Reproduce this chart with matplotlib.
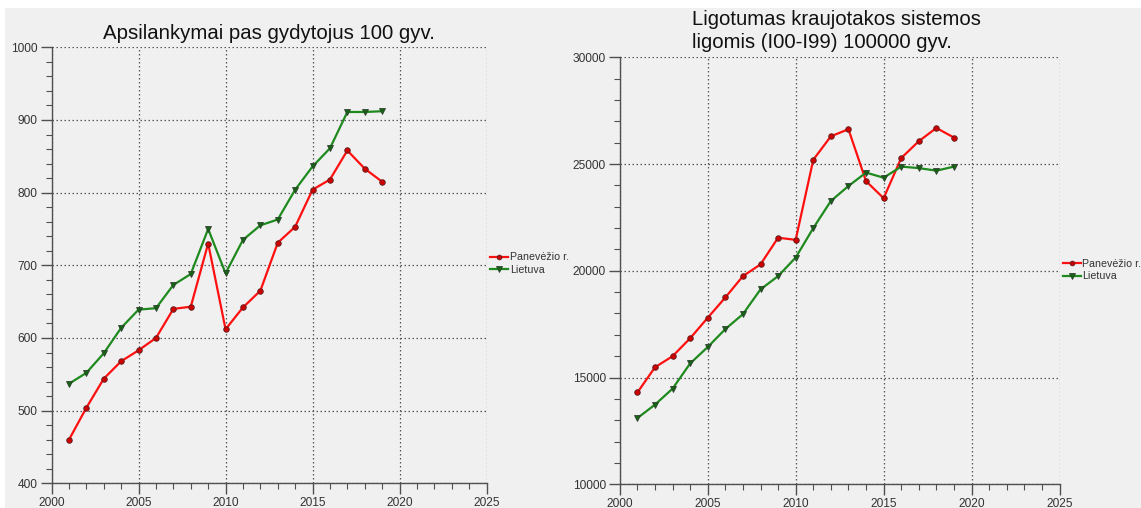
import matplotlib
matplotlib.use("Agg")
import matplotlib.pyplot as plt
from matplotlib.patches import Rectangle
from matplotlib.ticker import MultipleLocator

plt.rcParams["font.family"] = ["Liberation Sans", "DejaVu Sans"]

years = list(range(2001, 2020))

# Apsilankymai pas gydytojus 100 gyv.
visits_panevezys = [460, 504, 544, 568, 583, 600, 640, 643, 730, 612,
                    642, 665, 731, 753, 804, 818, 858, 833, 815]
visits_lietuva = [537, 552, 579, 614, 639, 641, 673, 688, 750, 689,
                  735, 755, 763, 804, 836, 861, 911, 911, 912]

# Ligotumas kraujotakos sistemos ligomis (I00-I99) 100000 gyv.
morbidity_panevezys = [14300, 15480, 16000, 16840, 17800, 18750, 19750, 20300, 21550, 21450,
                       25200, 26300, 26630, 24200, 23400, 25280, 26070, 26690, 26240]
morbidity_lietuva = [13100, 13730, 14480, 15660, 16430, 17270, 17970, 19130, 19750, 20620,
                     22000, 23270, 23970, 24600, 24360, 24880, 24810, 24690, 24880]

series_labels = ["Panevėžio r.", "Lietuva"]

BG = "#f0f0f0"
AXIS = "#505050"
TEXT = "#333333"
RED = "#ff1010"
GREEN = "#1e8a1e"

W, H = 1141, 508
fig = plt.figure(figsize=(W / 100, H / 100), dpi=100)
fig.patch.set_facecolor(BG)
# white margins along the top and left edge
fig.patches.append(Rectangle((0, 1 - 8 / H), 1, 8 / H, transform=fig.transFigure,
                             facecolor="white", edgecolor="none", zorder=0))
fig.patches.append(Rectangle((0, 0), 5 / W, 1, transform=fig.transFigure,
                             facecolor="white", edgecolor="none", zorder=0))


def px_axes(x0, x1, ytop, ybot):
    return fig.add_axes([x0 / W, 1 - ybot / H, (x1 - x0) / W, (ybot - ytop) / H])


def style(ax, ymin, ymax, ymajor, yminor):
    ax.set_facecolor(BG)
    ax.set_xlim(2000, 2025)
    ax.set_ylim(ymin, ymax)
    ax.xaxis.set_major_locator(MultipleLocator(5))
    ax.xaxis.set_minor_locator(MultipleLocator(1))
    ax.yaxis.set_major_locator(MultipleLocator(ymajor))
    ax.yaxis.set_minor_locator(MultipleLocator(yminor))
    for s in ("top", "right"):
        ax.spines[s].set_visible(False)
    for s in ("left", "bottom"):
        ax.spines[s].set_color(AXIS)
        ax.spines[s].set_linewidth(1.0)
    ax.tick_params(which="major", direction="out", length=8, width=1.0,
                   color=AXIS, labelsize=8.6, labelcolor=TEXT, pad=2)
    ax.tick_params(which="minor", direction="out", length=4, width=0.8, color=AXIS)
    ax.grid(True, which="major", color="#555555", linestyle=(0, (1.2, 2.0)), linewidth=0.9)
    ax.set_axisbelow(True)


def plot_pair(ax, red_vals, green_vals):
    ax.plot(years, red_vals, color=RED, linewidth=1.6, marker="o", markersize=4.0,
            markerfacecolor="#d00000", markeredgecolor="#5a2020", markeredgewidth=0.6,
            label=series_labels[0], zorder=3)
    ax.plot(years, green_vals, color=GREEN, linewidth=1.6, marker="v", markersize=5.0,
            markerfacecolor="#146414", markeredgecolor="#304030", markeredgewidth=0.6,
            label=series_labels[1], zorder=3)


def add_legend(ax, xpx, ypx):
    leg = ax.legend(loc="center left", bbox_to_anchor=(xpx / W, 1 - ypx / H),
                    bbox_transform=fig.transFigure, frameon=False, fontsize=7.7,
                    handlelength=1.7, handletextpad=0.15, labelspacing=0.25,
                    borderpad=0, borderaxespad=0, markerscale=0.85)
    for t in leg.get_texts():
        t.set_color(TEXT)


# left panel
ax1 = px_axes(51.6, 486.5, 47.3, 483.3)
style(ax1, 400, 1000, 100, 20)
plot_pair(ax1, visits_panevezys, visits_lietuva)
add_legend(ax1, 490, 263.6)
fig.text(269 / W, 1 - 39.3 / H, "Apsilankymai pas gydytojus 100 gyv.",
         ha="center", va="baseline", fontsize=14.7, color="#111111")

# right panel
ax2 = px_axes(619.8, 1059.5, 57.3, 484.3)
style(ax2, 10000, 30000, 5000, 1000)
plot_pair(ax2, morbidity_panevezys, morbidity_lietuva)
add_legend(ax2, 1062.7, 270)
fig.text(691.8 / W, 1 - 25 / H, "Ligotumas kraujotakos sistemos",
         ha="left", va="baseline", fontsize=14.6, color="#111111")
fig.text(691.8 / W, 1 - 48.3 / H, "ligomis (I00-I99) 100000 gyv.",
         ha="left", va="baseline", fontsize=14.6, color="#111111")

fig.savefig("out.png", dpi=100, facecolor=fig.get_facecolor())
